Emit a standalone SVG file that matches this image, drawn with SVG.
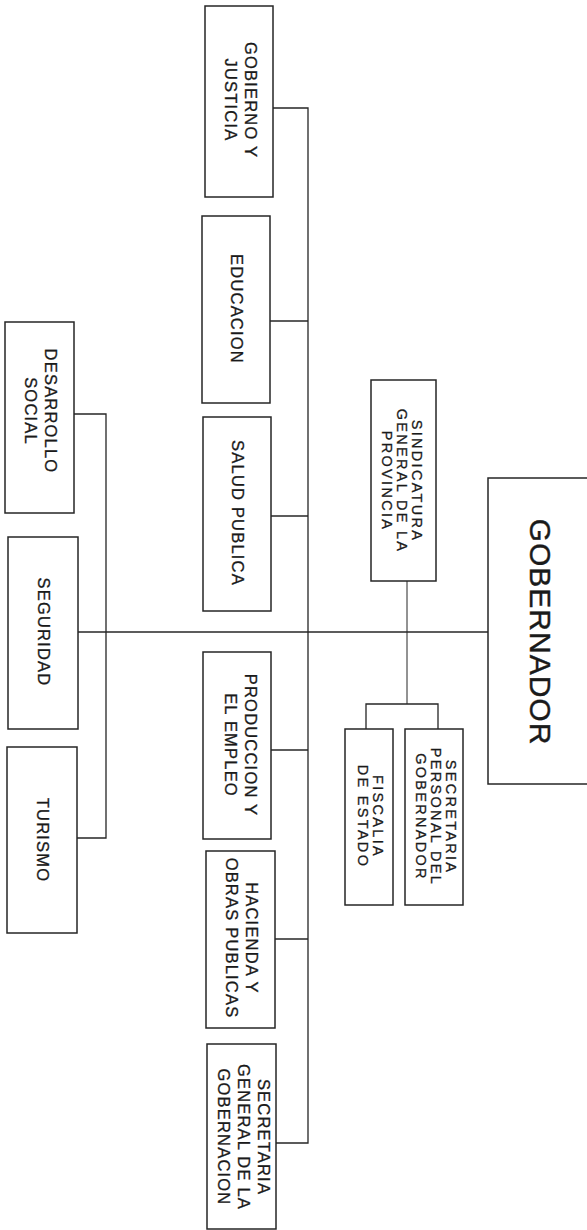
<svg xmlns="http://www.w3.org/2000/svg" width="587" height="1230" viewBox="0 0 587 1230">
<style>
.box{fill:#fff;stroke:#262626;stroke-width:1.5}
.ln{fill:none;stroke:#262626;stroke-width:1.3}
.lg{font-family:"Liberation Sans",Arial,sans-serif;font-size:16.5px;letter-spacing:1.2px;fill:#1a1a1a;stroke:#1a1a1a;stroke-width:0.3;text-anchor:middle}
.sm{font-family:"Liberation Sans",Arial,sans-serif;font-size:14.5px;letter-spacing:2.3px;fill:#1a1a1a;stroke:#1a1a1a;stroke-width:0.3;text-anchor:middle}
.xl{font-family:"Liberation Sans",Arial,sans-serif;font-size:30px;letter-spacing:1px;fill:#1a1a1a;stroke:#1a1a1a;stroke-width:0.4;text-anchor:middle}
</style>
<rect width="587" height="1230" fill="#fff"/>
<g id="connectors">
<path class="ln" d="M273,108 H308 V1143 H276"/>
<path class="ln" d="M270,321 H308"/>
<path class="ln" d="M271,516 H308"/>
<path class="ln" d="M271,750 H308"/>
<path class="ln" d="M275,939 H308"/>
<path class="ln" d="M74,414 H106 V838 H77"/>
<path class="ln" d="M78,632 H488"/>
<path class="ln" d="M407,581 V704" style="stroke-width:1"/>
<path class="ln" d="M366,729 V704 H438 V729"/>
</g>
<g id="gobernador">
<rect class="box" x="488" y="478" width="110" height="306"/>
<text class="xl" transform="translate(541,632) rotate(90)"><tspan x="0" y="10.7">GOBERNADOR</tspan></text>
</g>
<g id="sindicatura">
<rect class="box" x="371" y="380" width="65" height="201"/>
<text class="sm" transform="translate(402.5,481) rotate(90)"><tspan x="0" y="-9.8">SINDICATURA</tspan><tspan x="0" y="5.2">GENERAL DE LA</tspan><tspan x="0" y="20.2">PROVINCIA</tspan></text>
</g>
<g id="secretaria-personal">
<rect class="box" x="405" y="729" width="58" height="176"/>
<text class="sm" transform="translate(436,817) rotate(90)"><tspan x="0" y="-9.8">SECRETARIA</tspan><tspan x="0" y="5.2">PERSONAL DEL</tspan><tspan x="0" y="20.2">GOBERNADOR</tspan></text>
</g>
<g id="fiscalia">
<rect class="box" x="345" y="729" width="48" height="176"/>
<text class="sm" transform="translate(370.5,816.5) rotate(90)"><tspan x="0" y="-2.3">FISCALIA</tspan><tspan x="0" y="12.7">DE ESTADO</tspan></text>
</g>
<g id="gobierno-justicia">
<rect class="box" x="205" y="6" width="68" height="191"/>
<text class="lg" transform="translate(241,100) rotate(90)"><tspan x="0" y="-4.1">GOBIERNO Y</tspan><tspan x="0" y="15.9">JUSTICIA</tspan></text>
</g>
<g id="educacion">
<rect class="box" x="202" y="216" width="68" height="187"/>
<text class="lg" transform="translate(237,309) rotate(90)"><tspan x="0" y="5.9">EDUCACION</tspan></text>
</g>
<g id="salud-publica">
<rect class="box" x="203" y="417" width="68" height="194"/>
<text class="lg" transform="translate(238,513) rotate(90)"><tspan x="0" y="5.9">SALUD PUBLICA</tspan></text>
</g>
<g id="produccion">
<rect class="box" x="203" y="652" width="68" height="187"/>
<text class="lg" transform="translate(240.5,745) rotate(90)"><tspan x="0" y="-4.1">PRODUCCION Y</tspan><tspan x="0" y="15.9">EL EMPLEO</tspan></text>
</g>
<g id="hacienda">
<rect class="box" x="206" y="851" width="69" height="177"/>
<text class="lg" transform="translate(242,938) rotate(90)"><tspan x="0" y="-4.1">HACIENDA Y</tspan><tspan x="0" y="15.9">OBRAS PUBLICAS</tspan></text>
</g>
<g id="secretaria-general">
<rect class="box" x="207" y="1044" width="69" height="185"/>
<text class="lg" transform="translate(243.5,1137) rotate(90)"><tspan x="0" y="-14.1">SECRETARIA</tspan><tspan x="0" y="5.9">GENERAL DE LA</tspan><tspan x="0" y="25.9">GOBERNACION</tspan></text>
</g>
<g id="desarrollo-social">
<rect class="box" x="5" y="322" width="69" height="191"/>
<text class="lg" transform="translate(41,411) rotate(90)"><tspan x="0" y="-4.1">DESARROLLO</tspan><tspan x="0" y="15.9">SOCIAL</tspan></text>
</g>
<g id="seguridad">
<rect class="box" x="8" y="537" width="70" height="192"/>
<text class="lg" transform="translate(44,632) rotate(90)"><tspan x="0" y="5.9">SEGURIDAD</tspan></text>
</g>
<g id="turismo">
<rect class="box" x="7" y="747" width="70" height="186"/>
<text class="lg" transform="translate(42.5,840) rotate(90)"><tspan x="0" y="5.9">TURISMO</tspan></text>
</g>
</svg>
